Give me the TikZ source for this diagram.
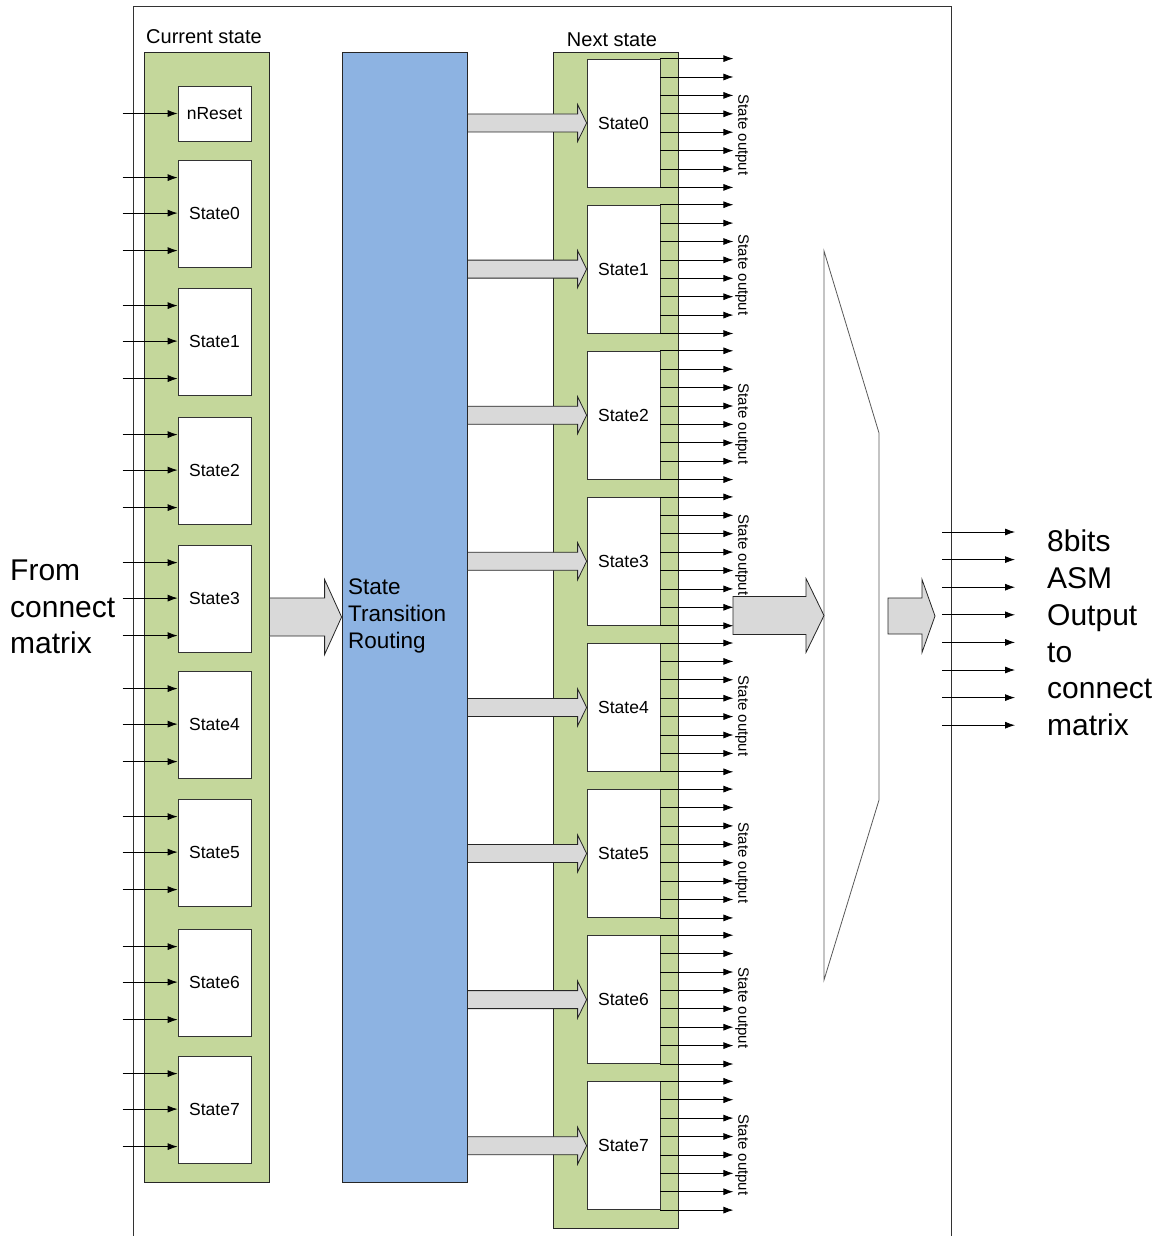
\documentclass[tikz,border=0pt]{standalone}
\usepackage{fontspec}
\setmainfont{Liberation Sans}
\usetikzlibrary{arrows.meta,calc}
\definecolor{cgreen}{HTML}{C4D79B}
\definecolor{cblue}{HTML}{8DB3E2}
\definecolor{cgray}{HTML}{D9D9D9}
\newcommand\myblockarrow[5]{% from, tip, body half, head half, head length
  \draw[barrow] let \p1=(#1), \p2=(#2) in
    (\x1,{\y2+#3pt}) -- ({\x2-#5pt},{\y2+#3pt}) -- ({\x2-#5pt},{\y2+#4pt}) -- (\x2,\y2)
    -- ({\x2-#5pt},{\y2-#4pt}) -- ({\x2-#5pt},{\y2-#3pt}) -- (\x1,{\y2-#3pt}) -- cycle;}
\tikzset{
  sig/.style={draw=black, line width=0.8pt, -{Latex[length=10pt,width=7pt]}},
  cbox/.style={draw=black!80, fill=white, line width=0.8pt, minimum width=73pt, inner sep=0pt, font=\fontsize{17.5}{21}\selectfont},
  container/.style={draw=black!85, line width=0.8pt, minimum width=125pt, inner sep=0pt},
  barrow/.style={draw=black!85, fill=cgray, line width=0.8pt},
  muxline/.style={draw=black!65, line width=0.8pt},
  frameline/.style={draw=black!80, line width=0.8pt},
  header/.style={inner sep=0pt, font=\fontsize{20}{24}\selectfont},
  bigtext/.style={inner sep=0pt, align=left, font=\fontsize{30}{36.8}\selectfont},
  outlabel/.style={inner sep=0pt, rotate=-90, font=\fontsize{15}{18}\selectfont},
}
\begin{document}
\begin{tikzpicture}[x=1pt,y=-1pt]
\useasboundingbox (0,0) rectangle (1164,1236);
% outer frame (open at the bottom)
\draw[frameline] (133,1240) -- (133,6) -- (951,6) -- (951,1240);

% containers
\node[container, fill=cgreen, minimum height=1130pt] (C) at (206.5,617) {};
\node[container, fill=cblue, minimum height=1130pt] (B) at (404.5,617) {};
\node[container, fill=cgreen, minimum height=1176pt] (N) at (615.5,640) {};

\node[header] (hC) at (204,37) {Current state};
\node[header] (hN) at (612,40) {Next state};

% current state boxes
\node[cbox, minimum height=55pt] (nR) at (214.5,113.5) {nReset};
\draw[sig] (nR.west) ++(-55,0) -- (nR.west);
\foreach \i/\t in {0/160,1/288,2/417,3/545,4/671,5/799,6/929,7/1056} {
  \node[cbox, minimum height=107pt] (L\i) at (214.5,\t+53.5) {State\i};
  \foreach \d in {18,53.5,91}
    \draw[sig] (L\i.north west) ++(-55,\d) -- ++(55,0);
}

% transition routing
\node[bigtext, anchor=west, font=\fontsize{22.5}{27}\selectfont] (tB) at (348,616) {State\\Transition\\Routing};
\myblockarrow{C.east}{B.west}{19}{37.5}{17}

% next state boxes
\foreach \i/\ly in {0/135,1/275,2/424,3/555,4/716,5/863,6/1008,7/1155} {
  \node[cbox, minimum height=128pt] (R\i) at (623.5,{59+146.1*\i+64}) {State\i};
  \myblockarrow{B.east}{R\i.west}{9}{18.5}{9}
  \foreach \k in {0,...,7}
    \draw[sig] ($(R\i.north east)!\k/7!(R\i.south east)$) -- ++(73,0);
  \node[outlabel] (o\i) at (742,\ly) {State output};
}

% multiplexer
\coordinate (m1) at (824,251);
\coordinate (m2) at (879,433);
\coordinate (m3) at (879,800);
\coordinate (m4) at (824,980);
\draw[muxline, fill=white] (m1) -- (m2) -- (m3) -- (m4) -- cycle;
\coordinate (muxW) at ($(m1)!0.5!(m4)$);
\coordinate (busL) at (733,616);
\myblockarrow{busL}{muxW}{19}{37}{18}
\coordinate (muxO) at (888,616);
\coordinate (busR) at (935,616);
\myblockarrow{muxO}{busR}{18}{36.5}{13}

% output bus
\foreach \k in {0,...,7}
  \draw[sig] (942,{532+27.6*\k}) coordinate (ob\k) -- ++(73,0);

% side texts
\node[bigtext, anchor=west] (fromT) at (10,607) {From\\connect\\matrix};
\node[bigtext, anchor=west] (toT) at (1047,633) {8bits\\ASM\\Output\\to\\connect\\matrix};
\end{tikzpicture}
\end{document}
